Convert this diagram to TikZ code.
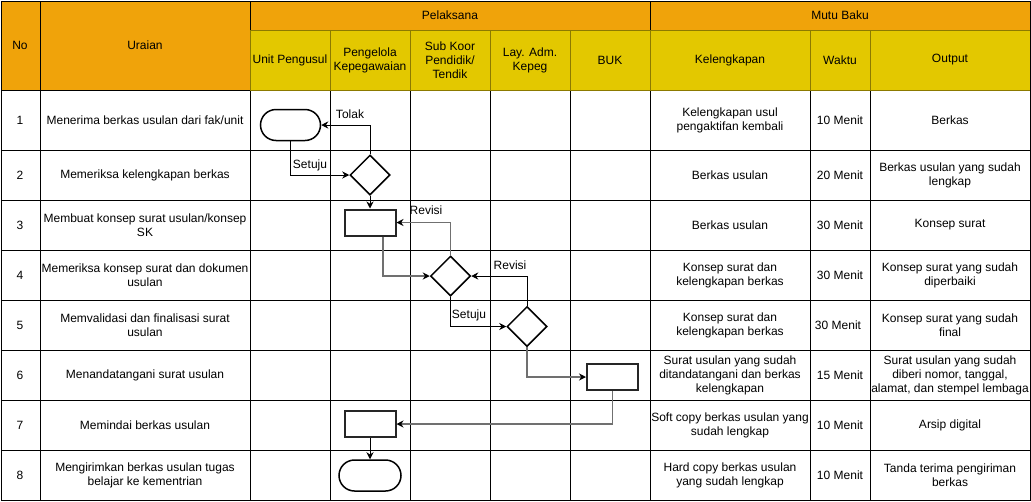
\documentclass[tikz,border=0pt]{standalone}
\usepackage{fontspec}
\setmainfont{Liberation Sans}
\usetikzlibrary{shapes.geometric,shapes.misc,arrows.meta}
\definecolor{hdrorange}{HTML}{F0A30A}
\definecolor{hdryellow}{HTML}{E3C800}
\definecolor{hdrstroke}{HTML}{8C7A00}
\definecolor{flowgray}{HTML}{707070}
\tikzset{
  txt/.style={align=center, font=\fontsize{12}{14}\selectfont, inner sep=0pt},
  term/.style={rounded rectangle, draw=black, line width=1.5pt, minimum width=60pt, minimum height=31pt, inner sep=0pt},
  dec/.style={diamond, aspect=1, draw=black, line width=1.5pt, minimum width=40pt, minimum height=40pt, inner sep=0pt},
  proc/.style={rectangle, draw=black!85, line width=2pt, minimum width=51pt, minimum height=26pt, inner sep=0pt},
  flow/.style={draw=black, line width=0.9pt, -{Stealth[length=7pt,width=7pt]}},
  flowg/.style={draw=flowgray, line width=1.3pt, -{Stealth[length=7pt,width=7pt,color=black]}},
  lbl/.style={font=\fontsize{12}{14}\selectfont, inner sep=0pt},
  grid/.style={draw=black, line width=1pt},
  ocell/.style={fill=hdrorange, draw=black, line width=1pt},
  ycell/.style={fill=hdryellow, draw=hdrstroke, line width=1pt}
}
\begin{document}
\begin{tikzpicture}[x=1pt,y=-1pt]
\useasboundingbox (0,0) rectangle (1031,501);
\fill[white] (0,0) rectangle (1031,501);
% body grid
\foreach \yy in {150,200,250,300,350,400,450}
  \draw[grid] (1,\yy) -- (1030,\yy);
\foreach \xx in {40,250,330,410,490,570,650,810,870}
  \draw[grid] (\xx,90) -- (\xx,500);
\draw[grid] (1,90) rectangle (1030,500);
% header
\draw[ocell] (1,1) rectangle (40,90);
\draw[ocell] (40,1) rectangle (250,90);
\draw[ocell] (250,1) rectangle (650,30);
\draw[ocell] (650,1) rectangle (1030,30);
\foreach \a/\b in {250/330,330/410,410/490,490/570,570/650,650/810,810/870,870/1030}
  \draw[ycell] (\a,30) rectangle (\b,90);
\draw[black, line width=1pt] (1,1) rectangle (1030,500);
\draw[black, line width=1pt] (40,1) -- (40,90) (250,1) -- (250,30) (650,1) -- (650,30);
% header texts
\node[txt] (hNo) at (20,45) {No};
\node[txt] (hUr) at (145,45) {Uraian};
\node[txt] (hPel) at (450,15) {Pelaksana};
\node[txt] (hMutu) at (840,15) {Mutu Baku};
\node[txt] (hUnit) at (290,60) {Unit Pengusul};
\node[txt] (hPeng) at (370,60) {Pengelola\\Kepegawaian};
\node[txt] (hSub) at (450,60) {Sub Koor\\Pendidik/\\Tendik};
\node[txt] (hLay) at (530,60) {Lay. Adm.\\Kepeg};
\node[txt] (hBuk) at (610,60) {BUK};
\node[txt] (hKel) at (730,60) {Kelengkapan};
\node[txt] (hWak) at (840,60) {Waktu};
\node[txt] (hOut) at (950,60) {Output};
% row numbers
\foreach \n/\yy in {1/120,2/175,3/225,4/275,5/325,6/375,7/425,8/475}
  \node[txt] (no\n) at (20,\yy) {\n};
% uraian
\node[txt] (u1) at (145,120) {Menerima berkas usulan dari fak/unit};
\node[txt] (u2) at (145,175) {Memeriksa kelengkapan berkas};
\node[txt] (u3) at (145,225) {Membuat konsep surat usulan/konsep\\SK};
\node[txt] (u4) at (145,275) {Memeriksa konsep surat dan dokumen\\usulan};
\node[txt] (u5) at (145,325) {Memvalidasi dan finalisasi surat\\usulan};
\node[txt] (u6) at (145,375) {Menandatangani surat usulan};
\node[txt] (u7) at (145,425) {Memindai berkas usulan};
\node[txt] (u8) at (145,475) {Mengirimkan berkas usulan tugas\\belajar ke kementrian};
% kelengkapan
\node[txt] (k1) at (730,120) {Kelengkapan usul\\pengaktifan kembali};
\node[txt] (k2) at (730,175) {Berkas usulan};
\node[txt] (k3) at (730,225) {Berkas usulan};
\node[txt] (k4) at (730,275) {Konsep surat dan\\kelengkapan berkas};
\node[txt] (k5) at (730,325) {Konsep surat dan\\kelengkapan berkas};
\node[txt] (k6) at (730,375) {Surat usulan yang sudah\\ditandatangani dan berkas\\kelengkapan};
\node[txt] (k7) at (730,425) {Soft copy berkas usulan yang\\sudah lengkap};
\node[txt] (k8) at (730,475) {Hard copy berkas usulan\\yang sudah lengkap};
% waktu
\node[txt] (w1) at (840,120) {10 Menit};
\node[txt] (w2) at (840,175) {20 Menit};
\node[txt] (w3) at (840,225) {30 Menit};
\node[txt] (w4) at (840,275) {30 Menit};
\node[txt] (w5) at (838,325) {30 Menit};
\node[txt] (w6) at (840,375) {15 Menit};
\node[txt] (w7) at (840,425) {10 Menit};
\node[txt] (w8) at (840,475) {10 Menit};
% output
\node[txt] (o1) at (950,120) {Berkas};
\node[txt] (o2) at (950,175) {Berkas usulan yang sudah\\lengkap};
\node[txt] (o3) at (950,225) {Konsep surat};
\node[txt] (o4) at (950,275) {Konsep surat yang sudah\\diperbaiki};
\node[txt] (o5) at (950,325) {Konsep surat yang sudah\\final};
\node[txt] (o6) at (950,375) {Surat usulan yang sudah\\diberi nomor, tanggal,\\alamat, dan stempel lembaga};
\node[txt] (o7) at (950,425) {Arsip digital};
\node[txt] (o8) at (950,475) {Tanda terima pengiriman\\berkas};
% flow shapes
\node[term] (t1) at (290.5,125) {};
\node[dec] (d2) at (370,175) {};
\node[proc] (p3) at (370,222.5) {};
\node[dec] (d4) at (450.5,276) {};
\node[dec] (d5) at (527,326.5) {};
\node[proc] (p6) at (612.5,377) {};
\node[proc] (p7) at (370,424) {};
\node[term, minimum width=62pt] (t8) at (370,475.5) {};
% connectors
\draw[flow] (d2.north) |- (t1.east);
\draw[flow] (t1.south) |- (d2.west);
\draw[flow] (d2.south) -- (p3.north);
\draw[flowg] (d4.north) |- (p3.east);
\draw[flowg] ([xshift=13pt]p3.south) |- (d4.west);
\draw[flow] (d5.north) |- (d4.east);
\draw[flow] (d4.south) |- (d5.west);
\draw[flowg] (d5.south) |- (p6.west);
\draw[flowg] (p6.south) |- (p7.east);
\draw[flow] (p7.south) -- (t8.north);
% labels
\node[lbl] (lTolak) at (350,114.5) {Tolak};
\node[lbl] (lSetuju1) at (310,165) {Setuju};
\node[lbl] (lRevisi1) at (426,210) {Revisi};
\node[lbl] (lRevisi2) at (510,265) {Revisi};
\node[lbl] (lSetuju2) at (469,315) {Setuju};
\end{tikzpicture}
\end{document}
